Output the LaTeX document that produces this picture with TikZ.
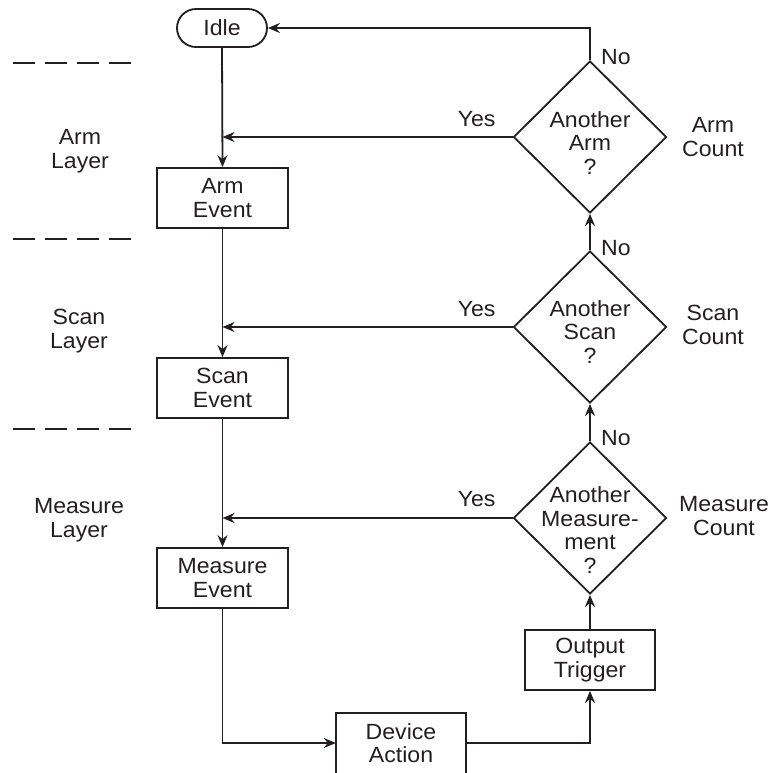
\documentclass[tikz,border=0pt]{standalone}
\usepackage{fontspec}
\setmainfont{Liberation Sans}[FakeStretch=1.05]
\usetikzlibrary{arrows.meta,shapes.geometric,calc}
\definecolor{ink}{HTML}{231F20}
\begin{document}
\begin{tikzpicture}[x=1pt,y=-1pt,
  every node/.style={font=\fontsize{22}{23.5}\selectfont, inner sep=0pt, text=ink},
  line/.style={line width=1.8pt, draw=ink},
  arr/.style={line, -{Stealth[length=12pt,width=10pt,inset=4pt]}},
  box/.style={draw=ink, line width=1.8pt, rectangle, minimum width=131pt, minimum height=60pt, align=center},
  term/.style={draw=ink, line width=1.8pt, rectangle, rounded corners=19pt, minimum width=90pt, minimum height=38pt},
  dec/.style={draw=ink, line width=1.8pt, diamond, minimum width=153pt, minimum height=152pt},
  lbl/.style={align=center},
  sep/.style={line width=1.5pt, draw=ink, dash pattern=on 22pt off 10pt}
]
\useasboundingbox (0,0) rectangle (778,772);

% separators
\draw[sep] (13,63) -- (131,63);
\draw[sep] (13,239) -- (131,239);
\draw[sep] (13,429) -- (131,429);

% left layer labels
\node[lbl] (llarm) at (80,151) {Arm\\Layer};
\node[lbl] (llscan) at (79,331) {Scan\\Layer};
\node[lbl] (llmeas) at (79,520) {Measure\\Layer};

% left column
\node[term] (idle) at (222,28) {Idle};
\node[box] (armev) at (222.5,198) {Arm\\Event};
\node[box] (scanev) at (222.5,388) {Scan\\Event};
\node[box] (measev) at (222.5,578) {Measure\\Event};

% device action (bottom edge cut by the page)
\node[lbl, minimum width=130pt, minimum height=60pt] (devact) at (401,743) {Device\\Action};
\draw[line] ([yshift=-12pt]devact.south west) |- (devact.north east) -- ([yshift=-12pt]devact.south east);

% right column
\node[box, minimum width=130pt] (outtrig) at (590,660) {Output\\Trigger};
\node[dec] (dm) at (590,518) {};
\node[dec] (ds) at (590,327) {};
\node[dec] (da) at (590,137) {};
\node[lbl] (dmt) at (590,530) {Another\\Measure-\\ment\\?};
\node[lbl] (dst) at (590,332) {Another\\Scan\\?};
\node[lbl] (dat) at (590,143) {Another\\Arm\\?};

% count labels
\node[lbl] (ca) at (713,137) {Arm\\Count};
\node[lbl] (cs) at (713,325) {Scan\\Count};
\node[lbl] (cm) at (724,516) {Measure\\Count};

% connectors
\draw[arr] (idle.south) -- (armev.north);
\draw[arr] (armev.south) -- (scanev.north);
\draw[arr] (scanev.south) -- (measev.north);
\draw[arr] (measev.south) |- (devact.west);
\draw[arr] (devact.east) -| (outtrig.south);
\draw[arr] (outtrig.north) -- (dm.south);
\draw[arr] (dm.north) -- (ds.south);
\draw[arr] (ds.north) -- (da.south);
\draw[arr] (da.north) |- (idle.east);
\draw[arr] (da.west) -- (da.west -| armev.north);
\draw[arr] (ds.west) -- (ds.west -| scanev.north);
\draw[arr] (dm.west) -- (dm.west -| measev.north);

% branch labels
\node (ya) at ($(da.west)+(-36,-18)$) {Yes};
\node (ys) at ($(ds.west)+(-36,-18)$) {Yes};
\node (ym) at ($(dm.west)+(-36,-19)$) {Yes};
\node (na) at ($(da.north)+(26,-3)$) {No};
\node (ns) at ($(ds.north)+(26,-2)$) {No};
\node (nm) at ($(dm.north)+(26,-3)$) {No};
\end{tikzpicture}
\end{document}
